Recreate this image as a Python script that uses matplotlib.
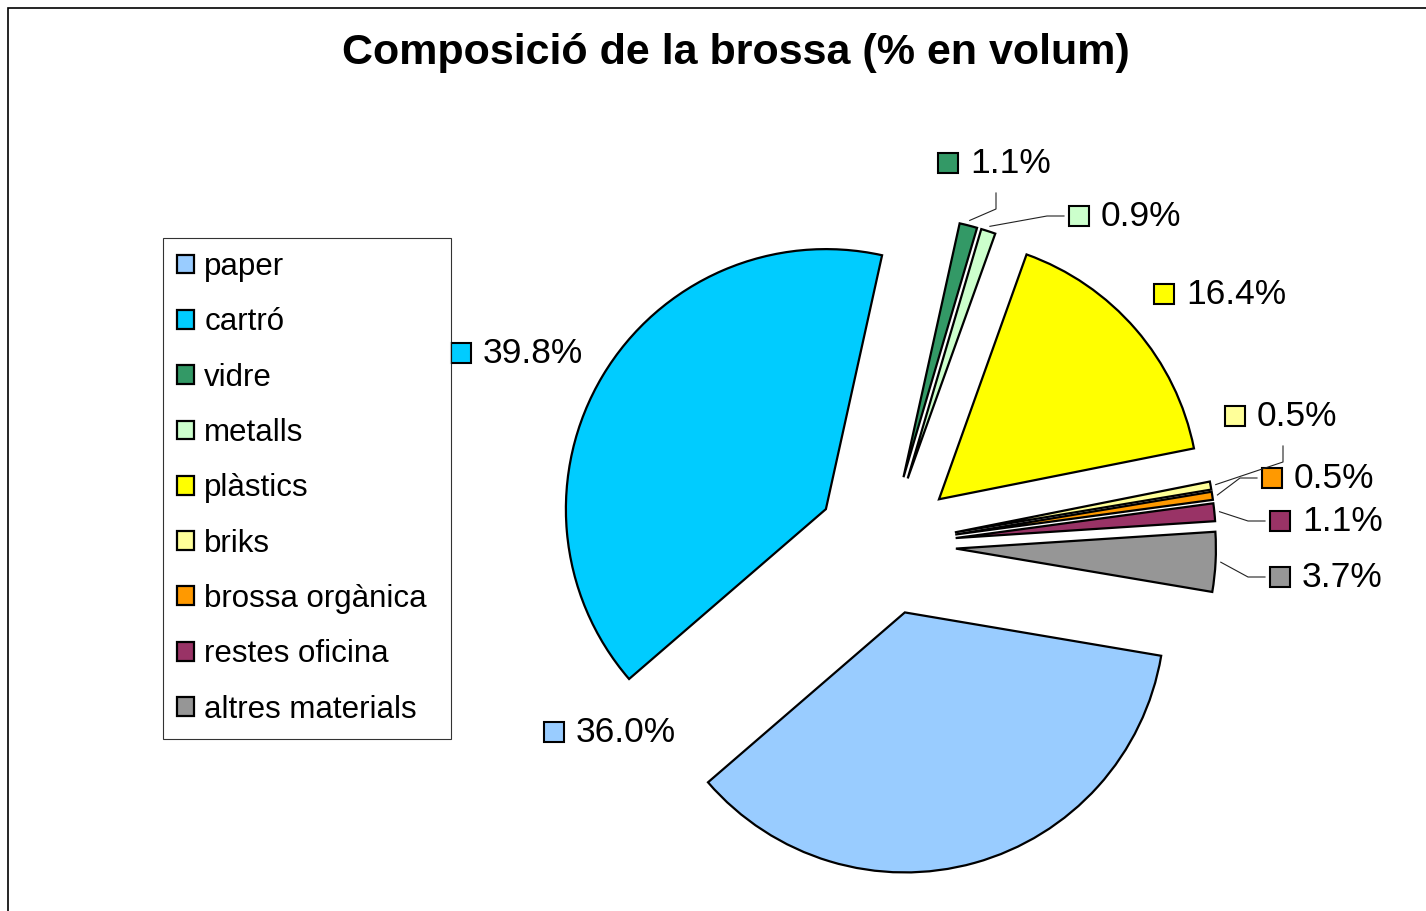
import numpy as np
import matplotlib.pyplot as plt
from matplotlib.patches import Rectangle

plt.rcParams['font.family'] = ['Liberation Sans', 'DejaVu Sans']

# Dades
categories = ['paper', 'cartró', 'vidre', 'metalls', 'plàstics', 'briks',
              'brossa orgànica', 'restes oficina', 'altres materials']
percentatges = [36.0, 39.8, 1.1, 0.9, 16.4, 0.5, 0.5, 1.1, 3.7]
colors = ['#99CCFF', '#00CCFF', '#339966', '#CCFFCC', '#FFFF00',
          '#FFFF99', '#FF9900', '#993366', '#969696']

W, H = 1426, 911

# Posició de les etiquetes (centre del quadrat, píxels des de dalt) i tipus de línia guia
label_pos = [(554, 732), (461, 353), (948, 163), (1079, 216), (1164, 294),
             (1235, 416), (1272, 478), (1280, 521), (1280, 577)]
leader = [None, None, 'below', 'side', None, 'below', 'side', 'side', 'side']


def py(y):
    # de píxels (des de dalt) a coordenades de l'eix
    return H - y


fig = plt.figure(figsize=(W / 100, H / 100), dpi=100)
ax = fig.add_axes([0, 0, 1, 1])
# explode en unitats de dades (píxels)
wedges, _ = ax.pie(percentatges, colors=colors, startangle=-9.6, counterclock=False,
                   explode=[70] * len(percentatges), radius=260, center=(886, py(545)),
                   wedgeprops=dict(edgecolor='black', linewidth=1.6))
ax.set_xlim(0, W)
ax.set_ylim(0, H)
ax.set_aspect('equal')
ax.axis('off')

# Marc del gràfic
ax.add_patch(Rectangle((8, -5), W, py(8) + 5, fill=False, edgecolor='black',
                       linewidth=1.2, clip_on=False))

# Etiquetes de percentatge amb quadrat de color
for w, val, col, (sx, sy), ld in zip(wedges, percentatges, colors, label_pos, leader):
    ax.add_patch(Rectangle((sx - 10, py(sy) - 10), 20, 20, facecolor=col,
                           edgecolor='black', linewidth=1.5))
    ax.text(sx + 22, py(sy + 10), f'{val:.1f}%', fontsize=25.5, ha='left', va='baseline')
    if ld is None:
        continue
    ang = np.deg2rad((w.theta1 + w.theta2) / 2)
    ex = w.center[0] + w.r * 1.02 * np.cos(ang)
    ey = w.center[1] + w.r * 1.02 * np.sin(ang)
    if ld == 'side':
        xs = [sx - 15, sx - 32, ex]
        ys = [py(sy), py(sy), ey]
    else:
        xs = [sx + 48, sx + 48, ex]
        ys = [py(sy + 30), py(sy + 46), ey]
    ax.plot(xs, ys, color='#222222', linewidth=0.8)

# Llegenda (caixa de 163..451 x 238..737 px)
leg = ax.legend(wedges, categories, loc='upper left', mode='expand',
                bbox_to_anchor=(163 / W, 1 - 737 / H, 288 / W, 499 / H),
                bbox_transform=fig.transFigure,
                fontsize=22.5, frameon=True, fancybox=False, edgecolor='black',
                handlelength=0.55, handleheight=0.55, handletextpad=0.32,
                labelspacing=0.81, borderpad=0.45, borderaxespad=0)
leg.get_frame().set_linewidth(0.8)

fig.text(736 / W, 1 - 53 / H, 'Composició de la brossa (% en volum)',
         fontsize=31, fontweight='bold', ha='center', va='center')

fig.savefig('out.png', dpi=100)
